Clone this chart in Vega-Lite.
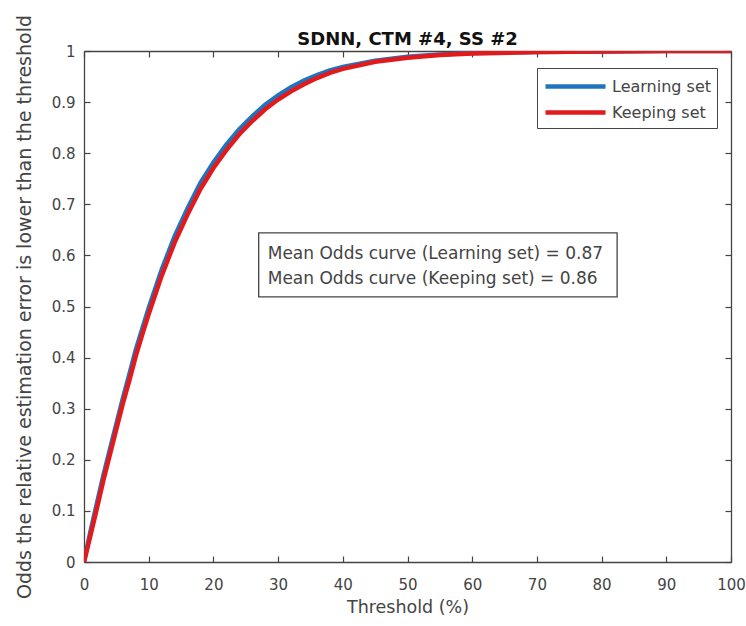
{
  "$schema": "https://vega.github.io/schema/vega-lite/v6.json",
  "width": 647,
  "height": 511,
  "autosize": {"type": "none"},
  "padding": {"left": 84, "top": 51, "right": 15, "bottom": 64},
  "background": "white",
  "title": {"text": "SDNN, CTM #4, SS #2", "font": "DejaVu Sans", "fontSize": 18, "fontWeight": "bold", "color": "#111", "offset": 6, "dy": 40},
  "config": {
    "view": {"stroke": null},
    "font": "DejaVu Sans",
    "axis": {"grid": false, "domainColor": "#444", "domainWidth": 1.3, "tickColor": "#444", "tickSize": -6, "tickWidth": 1.2, "labelFont": "DejaVu Sans", "labelFontSize": 15, "labelColor": "#444", "labelFlush": false, "titleFont": "DejaVu Sans", "titleFontSize": 17.5, "titleFontWeight": "normal", "titleColor": "#444"}
  },
  "datasets": {
    "curves": [
      {"t": 0, "v": 0, "s": "Learning set"}, {"t": 1, "v": 0.06, "s": "Learning set"}, {"t": 2, "v": 0.115, "s": "Learning set"}, {"t": 3, "v": 0.17, "s": "Learning set"}, {"t": 4, "v": 0.22, "s": "Learning set"}, {"t": 5, "v": 0.27, "s": "Learning set"}, {"t": 6, "v": 0.32, "s": "Learning set"}, {"t": 7, "v": 0.367, "s": "Learning set"}, {"t": 8, "v": 0.415, "s": "Learning set"}, {"t": 9, "v": 0.456, "s": "Learning set"}, {"t": 10, "v": 0.497, "s": "Learning set"}, {"t": 12, "v": 0.572, "s": "Learning set"}, {"t": 14, "v": 0.637, "s": "Learning set"}, {"t": 16, "v": 0.692, "s": "Learning set"}, {"t": 18, "v": 0.742, "s": "Learning set"}, {"t": 20, "v": 0.782, "s": "Learning set"}, {"t": 22, "v": 0.817, "s": "Learning set"}, {"t": 24, "v": 0.847, "s": "Learning set"}, {"t": 26, "v": 0.872, "s": "Learning set"}, {"t": 28, "v": 0.895, "s": "Learning set"}, {"t": 30, "v": 0.913, "s": "Learning set"}, {"t": 32, "v": 0.929, "s": "Learning set"}, {"t": 34, "v": 0.942, "s": "Learning set"}, {"t": 36, "v": 0.953, "s": "Learning set"}, {"t": 38, "v": 0.962, "s": "Learning set"}, {"t": 40, "v": 0.969, "s": "Learning set"}, {"t": 45, "v": 0.981, "s": "Learning set"}, {"t": 50, "v": 0.989, "s": "Learning set"}, {"t": 55, "v": 0.993, "s": "Learning set"}, {"t": 60, "v": 0.996, "s": "Learning set"}, {"t": 70, "v": 0.998, "s": "Learning set"}, {"t": 80, "v": 0.999, "s": "Learning set"}, {"t": 90, "v": 1.0, "s": "Learning set"}, {"t": 100, "v": 1.0, "s": "Learning set"},
      {"t": 0, "v": 0, "s": "Keeping set"}, {"t": 1, "v": 0.052, "s": "Keeping set"}, {"t": 2, "v": 0.105, "s": "Keeping set"}, {"t": 3, "v": 0.16, "s": "Keeping set"}, {"t": 4, "v": 0.21, "s": "Keeping set"}, {"t": 5, "v": 0.26, "s": "Keeping set"}, {"t": 6, "v": 0.31, "s": "Keeping set"}, {"t": 7, "v": 0.355, "s": "Keeping set"}, {"t": 8, "v": 0.403, "s": "Keeping set"}, {"t": 9, "v": 0.445, "s": "Keeping set"}, {"t": 10, "v": 0.485, "s": "Keeping set"}, {"t": 12, "v": 0.56, "s": "Keeping set"}, {"t": 14, "v": 0.625, "s": "Keeping set"}, {"t": 16, "v": 0.68, "s": "Keeping set"}, {"t": 18, "v": 0.73, "s": "Keeping set"}, {"t": 20, "v": 0.771, "s": "Keeping set"}, {"t": 22, "v": 0.806, "s": "Keeping set"}, {"t": 24, "v": 0.837, "s": "Keeping set"}, {"t": 26, "v": 0.863, "s": "Keeping set"}, {"t": 28, "v": 0.886, "s": "Keeping set"}, {"t": 30, "v": 0.905, "s": "Keeping set"}, {"t": 32, "v": 0.921, "s": "Keeping set"}, {"t": 34, "v": 0.935, "s": "Keeping set"}, {"t": 36, "v": 0.947, "s": "Keeping set"}, {"t": 38, "v": 0.957, "s": "Keeping set"}, {"t": 40, "v": 0.965, "s": "Keeping set"}, {"t": 45, "v": 0.979, "s": "Keeping set"}, {"t": 50, "v": 0.987, "s": "Keeping set"}, {"t": 55, "v": 0.992, "s": "Keeping set"}, {"t": 60, "v": 0.995, "s": "Keeping set"}, {"t": 70, "v": 0.998, "s": "Keeping set"}, {"t": 80, "v": 0.999, "s": "Keeping set"}, {"t": 90, "v": 1.0, "s": "Keeping set"}, {"t": 100, "v": 1.0, "s": "Keeping set"}
    ],
    "box": [{"x1": 27.0, "x2": 82.4, "y1": 0.519, "y2": 0.644}],
    "notes": [
      {"x": 28.4, "y": 0.603, "label": "Mean Odds curve (Learning set) = 0.87"},
      {"x": 28.4, "y": 0.554, "label": "Mean Odds curve (Keeping set) = 0.86"}
    ]
  },
  "resolve": {"axis": {"x": "independent", "y": "independent"}},
  "layer": [
    {
      "data": {"name": "curves"},
      "mark": {"type": "line", "strokeWidth": 4.5, "clip": true},
      "encoding": {
        "x": {"field": "t", "type": "quantitative", "scale": {"domain": [0, 100], "nice": false}, "axis": {"orient": "bottom", "title": "Threshold (%)", "values": [0, 10, 20, 30, 40, 50, 60, 70, 80, 90, 100], "labelPadding": 21, "titlePadding": 6}},
        "y": {"field": "v", "type": "quantitative", "scale": {"domain": [0, 1], "nice": false}, "axis": {"orient": "left", "title": "Odds the relative estimation error is lower than the threshold", "titleFontSize": 19, "values": [0, 0.1, 0.2, 0.3, 0.4, 0.5, 0.6, 0.7, 0.8, 0.9, 1], "format": "~g", "labelPadding": 15, "titlePadding": 17}},
        "color": {"field": "s", "type": "nominal", "scale": {"domain": ["Learning set", "Keeping set"], "range": ["#1f74c0", "#e31a1c"]},
          "legend": {"title": null, "orient": "none", "legendX": 453, "legendY": 17, "symbolType": "M-1,0H5", "symbolSize": 400, "symbolStrokeWidth": 4.5, "labelOffset": 44, "labelFontSize": 16, "labelColor": "#444", "labelFont": "DejaVu Sans", "strokeColor": "#444", "fillColor": "white", "padding": 6, "rowPadding": 4}},
        "order": {"field": "t", "type": "quantitative"}
      }
    },
    {
      "data": {"name": "curves"},
      "mark": {"type": "line", "opacity": 0},
      "encoding": {
        "x": {"field": "t", "type": "quantitative", "axis": {"orient": "top", "labels": false, "title": null, "values": [0, 10, 20, 30, 40, 50, 60, 70, 80, 90, 100]}},
        "y": {"field": "v", "type": "quantitative", "axis": {"orient": "right", "labels": false, "title": null, "values": [0, 0.1, 0.2, 0.3, 0.4, 0.5, 0.6, 0.7, 0.8, 0.9, 1]}},
        "detail": {"field": "s"}
      }
    },
    {
      "data": {"name": "box"},
      "mark": {"type": "rect", "fill": "white", "stroke": "#444", "strokeWidth": 1.3},
      "encoding": {
        "x": {"field": "x1", "type": "quantitative", "axis": null},
        "x2": {"field": "x2"},
        "y": {"field": "y1", "type": "quantitative", "axis": null},
        "y2": {"field": "y2"}
      }
    },
    {
      "data": {"name": "notes"},
      "mark": {"type": "text", "align": "left", "baseline": "middle", "fontSize": 17, "font": "DejaVu Sans", "color": "#444"},
      "encoding": {
        "x": {"field": "x", "type": "quantitative", "axis": null},
        "y": {"field": "y", "type": "quantitative", "axis": null},
        "text": {"field": "label"}
      }
    }
  ]
}
